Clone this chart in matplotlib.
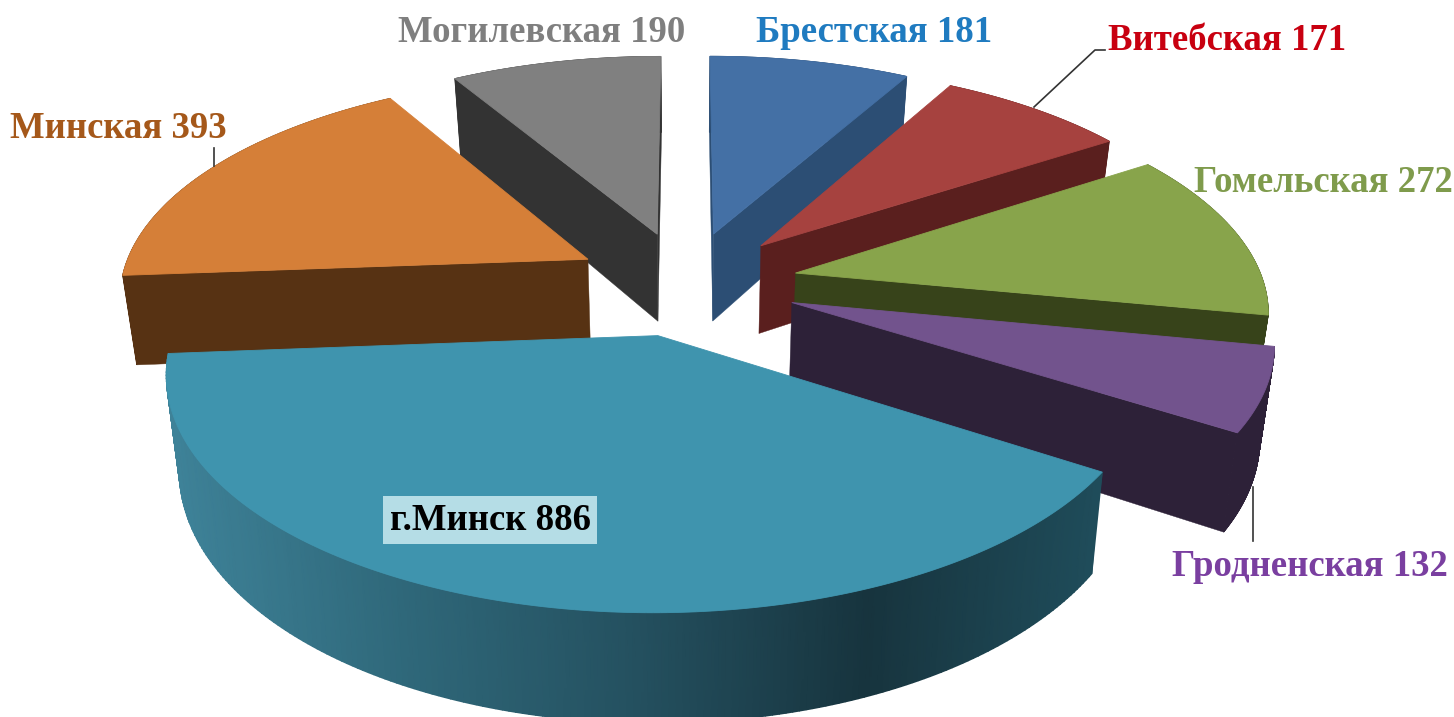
import matplotlib
matplotlib.use('Agg')
import matplotlib.pyplot as plt
from matplotlib.colors import LinearSegmentedColormap, Normalize
import numpy as np

regions = ['Брестская', 'Витебская', 'Гомельская', 'Гродненская', 'г.Минск', 'Минская', 'Могилевская']
values = [181, 171, 272, 132, 886, 393, 190]

top_colors = ['#4470A5', '#A6423F', '#88A44B', '#72538D', '#3F94AE', '#D57F38', '#808080']
side_colors = ['#2C4E74', '#5A1F1E', '#37431A', '#2D2138', '#1A3A45', '#573213', '#333333']
label_colors = ['#1F7BC0', '#C80010', '#7F9B4C', '#7A3FA0', '#000000', '#A5581A', '#7F7F7F']
label_x = [874, 1227, 1323, 1310, 490, 118, 542]
label_y = [33, 41, 183, 567, 520, 129, 32]

# порядок отрисовки: сначала дальние сектора
draw_order = [6, 0, 1, 5, 2, 3, 4]

cx, cy = 686, 283
bx, by = 468, 218
persp = 0.15
depth = 90
explode = 0.24

plt.rcParams['font.family'] = ['Liberation Serif', 'DejaVu Serif']
fig = plt.figure(figsize=(14.54, 7.17), dpi=100)
ax = fig.add_axes([0, 0, 1, 1])


def project(X, Y, low=False):
    s = 1 / (1 - persp * Y)
    sx = cx + bx * X * s
    sy = cy + by * Y * s
    if low:
        sx = sx - (sx - cx) * 0.025
        sy = sy + depth * s
    return sx, sy


def fill(xs, ys, color, lw=0.3):
    ax.fill(xs, ys, facecolor=color, edgecolor=color, linewidth=lw)


def side(p, a, b):
    return (b[0] - a[0]) * (p[1] - a[1]) - (b[1] - a[1]) * (p[0] - a[0])


def cut_face(apex, apex_low, top, low, other, color):
    # рисуем грань, только если сектор и низ лежат по разные стороны от ребра
    if side(other, apex, top) * side(apex_low, apex, top) < 0:
        fill([apex[0], top[0], low[0], apex_low[0]], [apex[1], top[1], low[1], apex_low[1]], color)


total = sum(values)
edges = np.concatenate([[0], np.cumsum(values)]) / total * 2 * np.pi
stop_x = [168, 400, 640, 870, 1100]
stop_colors = ['#3E8298', '#2F687A', '#24505F', '#17343E', '#1F4C5A']
city_cmap = LinearSegmentedColormap.from_list('city', [((x - 168) / 932, c) for x, c in zip(stop_x, stop_colors)])

for i in draw_order:
    t0, t1 = edges[i], edges[i + 1]
    mid = (t0 + t1) / 2
    ax0, ay0 = explode * np.sin(mid), -explode * np.cos(mid)
    t = np.linspace(t0, t1, 200)
    arc_X = ax0 + np.sin(t)
    arc_Y = ay0 - np.cos(t)
    top_x, top_y = project(arc_X, arc_Y)
    low_x, low_y = project(arc_X, arc_Y, True)
    apex = project(ax0, ay0)
    apex_low = project(ax0, ay0, True)

    # боковые грани у центра
    cut_face(apex, apex_low, (top_x[0], top_y[0]), (low_x[0], low_y[0]), (top_x[-1], top_y[-1]), side_colors[i])
    cut_face(apex, apex_low, (top_x[-1], top_y[-1]), (low_x[-1], low_y[-1]), (top_x[0], top_y[0]), side_colors[i])

    # внешняя стенка
    if regions[i] == 'г.Минск':
        ax.pcolormesh(np.array([top_x, low_x]), np.array([top_y, low_y]), np.array([top_x, top_x]),
                      shading='gouraud', cmap=city_cmap, norm=Normalize(168, 1100))
    else:
        for j in range(len(t) - 1):
            fill([top_x[j], top_x[j + 1], low_x[j + 1], low_x[j]],
                 [top_y[j], top_y[j + 1], low_y[j + 1], low_y[j]], side_colors[i], 0.6)

    fill(np.concatenate([[apex[0]], top_x]), np.concatenate([[apex[1]], top_y]), top_colors[i], 0.6)

# выноски
ax.plot([1105, 1095, 1034], [50, 50, 107], color='#333333', lw=1.2)
ax.plot([214, 214], [148, 166], color='#333333', lw=1.2)
ax.plot([1253, 1253], [487, 541], color='#333333', lw=1.2)

for i in range(len(regions)):
    box = None
    if regions[i] == 'г.Минск':
        box = dict(facecolor='#B5DDE6', edgecolor='none', pad=5)
    ax.text(label_x[i], label_y[i], f'{regions[i]} {values[i]}', color=label_colors[i],
            fontsize=26.5, fontweight='bold', ha='center', va='center', bbox=box)

ax.set_xlim(0, 1454)
ax.set_ylim(717, 0)
ax.axis('off')
fig.savefig('out.png', dpi=100)
